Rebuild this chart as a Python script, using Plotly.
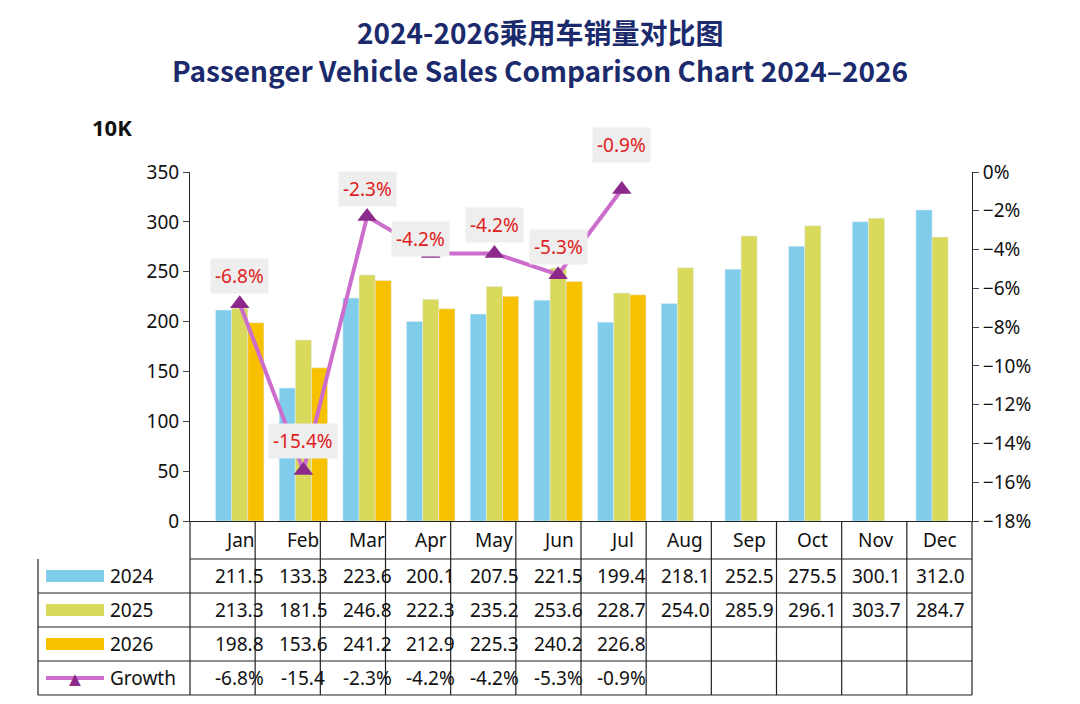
import plotly.graph_objects as go

months = ["Jan","Feb","Mar","Apr","May","Jun","Jul","Aug","Sep","Oct","Nov","Dec"]
s2024 = [211.5,133.3,223.6,200.1,207.5,221.5,199.4,218.1,252.5,275.5,300.1,312.0]
s2025 = [213.3,181.5,246.8,222.3,235.2,253.6,228.7,254.0,285.9,296.1,303.7,284.7]
s2026 = [198.8,153.6,241.2,212.9,225.3,240.2,226.8]
growth = [-6.8,-15.4,-2.3,-4.2,-4.2,-5.3,-0.9]
growth_txt = ["-6.8%","-15.4","-2.3%","-4.2%","-4.2%","-5.3%","-0.9%"]
label_off = [(0,-28),(0,-30),(0,-28),(-10,-14),(0,-28),(0,-28),(0,-44)]

W, H = 1080, 704
L, R, T, B = 190, 972, 172, 521
OFF = 8  # page body offset
ph = B - T
def py(y): return (B - y) / ph
def px(x): return (x - L) / (R - L)

c24, c25, c26, cg = "#7fcdea", "#d9d95c", "#f8c100", "#cc6ccc"
fig = go.Figure()
fig.add_bar(x=months, y=s2024, marker_color=c24, name="2024")
fig.add_bar(x=months, y=s2025, marker_color=c25, name="2025")
fig.add_bar(x=months[:7], y=s2026, marker_color=c26, name="2026")
fig.add_scatter(x=months[:7], y=growth, yaxis="y2", mode="lines+markers",
                line=dict(color=cg, width=4),
                marker=dict(symbol="triangle-up", size=17, color="#8b2a8b"), name="Growth")

ann = []
for m, g, (ax, ay) in zip(months, growth, label_off):
    ann.append(dict(x=m, y=g, yref="y2", text=f"{g}%", showarrow=True, arrowcolor="rgba(0,0,0,0)",
                    ax=ax, ay=ay, font=dict(color="#e02020", size=19), bgcolor="#eeeeee", borderpad=4))

rows = [(B, 559), (559, 593), (593, 627), (627, 661), (661, 695)]
shapes = []
font = dict(family="Noto Sans, Open Sans", size=19, color="#111")
for i, (y0, y1) in enumerate(rows):
    shapes.append(dict(type="line", xref="paper", yref="paper", x0=px(38) if i > 0 else 0, x1=1,
                       y0=py(y1), y1=py(y1), line=dict(color="#222", width=1.2)))
n = len(months)
for k in range(n + 1):
    shapes.append(dict(type="line", xref="paper", yref="paper", x0=k / n, x1=k / n,
                       y0=py(B), y1=py(695), line=dict(color="#222", width=1.2)))
shapes.append(dict(type="line", xref="paper", yref="paper", x0=px(38), x1=px(38),
                   y0=py(559), y1=py(695), line=dict(color="#222", width=1.2)))
for m in months:
    ann.append(dict(x=m, y=py((rows[0][0] + rows[0][1]) / 2), yref="paper", text=m, showarrow=False,
                    font=font, xanchor="center", yanchor="middle"))
series = [("2024", [f"{v:.1f}" for v in s2024], c24), ("2025", [f"{v:.1f}" for v in s2025], c25),
          ("2026", [f"{v:.1f}" for v in s2026], c26), ("Growth", growth_txt, cg)]
for i, (nm, vals, col) in enumerate(series):
    y0, y1 = rows[i + 1]
    yc = py((y0 + y1) / 2)
    for m, v in zip(months, vals):
        ann.append(dict(x=m, y=yc, yref="paper", text=v, showarrow=False, font=font,
                        xanchor="center", yanchor="middle"))
    ann.append(dict(x=px(108), xref="paper", xanchor="left", y=yc, yref="paper", yanchor="middle",
                    text=nm, showarrow=False, font=font))
    if nm == "Growth":
        shapes.append(dict(type="line", xref="paper", yref="paper", x0=px(46), x1=px(104), y0=yc, y1=yc,
                           line=dict(color=col, width=4)))
        ann.append(dict(x=px(75), xref="paper", y=yc, yref="paper", text="▲", showarrow=False,
                        xanchor="center", yanchor="middle", font=dict(color="#8b2a8b", size=20)))
    else:
        shapes.append(dict(type="rect", xref="paper", yref="paper", x0=px(46), x1=px(104), y0=py(y0 + 11), y1=py(y1 - 11),
                           fillcolor=col, line=dict(width=0)))
ann.append(dict(x=px(112), xref="paper", y=py(127), yref="paper", text="<b>10K</b>", showarrow=False,
                xanchor="center", yanchor="middle", font=dict(family="Noto Sans", size=22, color="#111")))
tfont = dict(family="Noto Sans CJK SC, Noto Sans", size=28, color="#1a2a6c")
ann.append(dict(x=px(540), xref="paper", y=py(32), yref="paper", text="<b>2024-2026乘用车销量对比图</b>",
                showarrow=False, xanchor="center", yanchor="middle", font=tfont))
ann.append(dict(x=px(540), xref="paper", y=py(70), yref="paper",
                text="<b>Passenger Vehicle Sales Comparison Chart 2024–2026</b>",
                showarrow=False, xanchor="center", yanchor="middle", font=tfont))

fig.update_layout(
    width=W, height=H, margin=dict(l=L - OFF, r=W - R + OFF, t=T - OFF, b=H - B + OFF), showlegend=False,
    plot_bgcolor="white", paper_bgcolor="white", barmode="group", bargap=0.24, bargroupgap=0,
    font=dict(family="Noto Sans, Open Sans", size=19, color="#111"),
    xaxis=dict(showticklabels=False, showline=True, linecolor="#222", ticks=""),
    yaxis=dict(range=[0, 350], dtick=50, showgrid=False, showline=True, linecolor="#222", ticks="outside",
               ticklen=6, zeroline=False),
    yaxis2=dict(overlaying="y", side="right", range=[-18, 0], dtick=2, ticksuffix="%", showgrid=False,
                showline=True, linecolor="#222", ticks="outside", ticklen=6, zeroline=False),
    annotations=ann, shapes=shapes,
)
fig.write_html("out.html")
